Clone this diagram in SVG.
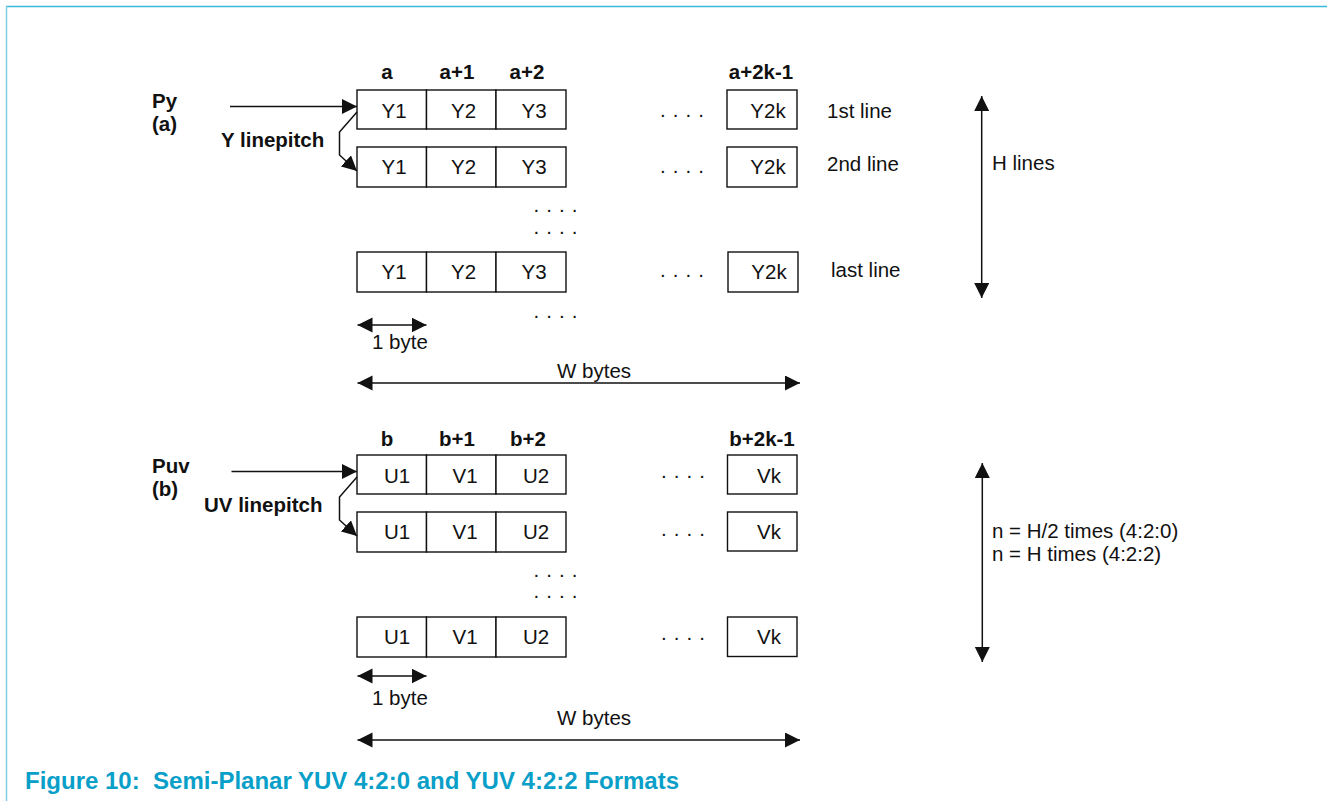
<svg xmlns="http://www.w3.org/2000/svg" width="1327" height="801" viewBox="0 0 1327 801">
<style>
text{font-family:"Liberation Sans",Arial,sans-serif;fill:#111}
.t{font-size:20.5px}
.b{font-size:20.5px;font-weight:bold}
.c{text-anchor:middle}
.d{font-size:20.5px;letter-spacing:0.7px}
.cell{fill:#fff;stroke:#111;stroke-width:1.4}
.ln{stroke:#111;stroke-width:1.5;fill:none}
.cap{font-size:24px;font-weight:bold;fill:#0a9fc8}
</style>
<defs>
<marker id="ah" markerUnits="userSpaceOnUse" markerWidth="16" markerHeight="16" refX="15" refY="7.5" orient="auto-start-reverse">
<path d="M0,0 L15,7.5 L0,15 z" fill="#111"/>
</marker>
</defs>
<rect x="0" y="0" width="1327" height="801" fill="#fff"/>
<line x1="6" y1="6.5" x2="1327" y2="6.5" stroke="#3bb9dc" stroke-width="1.5"/>
<line x1="6.5" y1="6" x2="6.5" y2="801" stroke="#7fd0e3" stroke-width="1.5"/>

<g id="y-plane">
<g id="y-addr">
<text class="b c" x="387" y="79">a</text>
<text class="b c" x="457" y="79">a+1</text>
<text class="b c" x="527" y="79">a+2</text>
<text class="b c" x="761" y="79">a+2k-1</text>
</g>
<g id="py-label">
<text class="b" x="152" y="108">Py</text>
<text class="b" x="152" y="131">(a)</text>
<text class="b" x="221" y="147">Y linepitch</text>
</g>
<g id="y-row1">
<rect class="cell" x="357" y="90" width="69.5" height="39"/>
<rect class="cell" x="426.5" y="90" width="69.5" height="39"/>
<rect class="cell" x="496" y="90" width="70" height="39"/>
<rect class="cell" x="727" y="90" width="70" height="39"/>
<text class="t c" x="394" y="118">Y1</text>
<text class="t c" x="463.5" y="118">Y2</text>
<text class="t c" x="534" y="118">Y3</text>
<text class="t c" x="768" y="118">Y2k</text>
<text class="d" x="660" y="116.5">. . . .</text>
<text class="t" x="827" y="118">1st line</text>
</g>
<g id="y-row2">
<rect class="cell" x="357" y="147" width="69.5" height="40"/>
<rect class="cell" x="426.5" y="147" width="69.5" height="40"/>
<rect class="cell" x="496" y="147" width="70" height="40"/>
<rect class="cell" x="727" y="147" width="70" height="40"/>
<text class="t c" x="394" y="174">Y1</text>
<text class="t c" x="463.5" y="174">Y2</text>
<text class="t c" x="534" y="174">Y3</text>
<text class="t c" x="768" y="174">Y2k</text>
<text class="d" x="660" y="173">. . . .</text>
<text class="t" x="827" y="171">2nd line</text>
</g>
<text class="d" x="533.5" y="212">. . . .</text>
<text class="d" x="533.5" y="234">. . . .</text>
<g id="y-rowlast">
<rect class="cell" x="357" y="252" width="69.5" height="40"/>
<rect class="cell" x="426.5" y="252" width="69.5" height="40"/>
<rect class="cell" x="496" y="252" width="70" height="40"/>
<rect class="cell" x="728" y="252" width="70" height="40"/>
<text class="t c" x="394" y="278.5">Y1</text>
<text class="t c" x="463.5" y="278.5">Y2</text>
<text class="t c" x="534" y="278.5">Y3</text>
<text class="t c" x="769" y="278.5">Y2k</text>
<text class="d" x="660" y="276.5">. . . .</text>
<text class="t" x="831" y="277">last line</text>
</g>
<text class="d" x="533.5" y="318">. . . .</text>
<text class="t" x="372" y="349">1 byte</text>
<text class="t" x="557" y="378">W bytes</text>
<text class="t" x="992" y="170">H lines</text>
</g>

<g id="uv-plane">
<g id="uv-addr">
<text class="b c" x="387" y="446">b</text>
<text class="b c" x="457" y="446">b+1</text>
<text class="b c" x="528" y="446">b+2</text>
<text class="b c" x="762" y="446">b+2k-1</text>
</g>
<g id="puv-label">
<text class="b" x="152" y="473">Puv</text>
<text class="b" x="152" y="496">(b)</text>
<text class="b" x="204" y="512">UV linepitch</text>
</g>
<g id="uv-row1">
<rect class="cell" x="357" y="455" width="69.5" height="39"/>
<rect class="cell" x="426.5" y="455" width="69.5" height="39"/>
<rect class="cell" x="496" y="455" width="70" height="39"/>
<rect class="cell" x="727.5" y="455" width="69.5" height="39"/>
<text class="t c" x="397" y="483">U1</text>
<text class="t c" x="465" y="483">V1</text>
<text class="t c" x="536" y="483">U2</text>
<text class="t c" x="769" y="483">Vk</text>
<text class="d" x="661" y="478">. . . .</text>
</g>
<g id="uv-row2">
<rect class="cell" x="357" y="512" width="69.5" height="40"/>
<rect class="cell" x="426.5" y="512" width="69.5" height="40"/>
<rect class="cell" x="496" y="512" width="70" height="40"/>
<rect class="cell" x="727.5" y="512" width="69.5" height="39"/>
<text class="t c" x="397" y="539">U1</text>
<text class="t c" x="465" y="539">V1</text>
<text class="t c" x="536" y="539">U2</text>
<text class="t c" x="769" y="539">Vk</text>
<text class="d" x="661" y="535.5">. . . .</text>
</g>
<text class="d" x="533.5" y="576.5">. . . .</text>
<text class="d" x="533.5" y="598">. . . .</text>
<g id="uv-rowlast">
<rect class="cell" x="357" y="617" width="69.5" height="40"/>
<rect class="cell" x="426.5" y="617" width="69.5" height="40"/>
<rect class="cell" x="496" y="617" width="70" height="40"/>
<rect class="cell" x="727.5" y="617" width="69.5" height="39.5"/>
<text class="t c" x="397" y="643.5">U1</text>
<text class="t c" x="465" y="643.5">V1</text>
<text class="t c" x="536" y="643.5">U2</text>
<text class="t c" x="769" y="643.5">Vk</text>
<text class="d" x="661" y="639.5">. . . .</text>
</g>
<text class="t" x="372" y="705">1 byte</text>
<text class="t" x="557" y="725">W bytes</text>
<text class="t" x="992" y="538">n = H/2 times (4:2:0)</text>
<text class="t" x="992" y="561">n = H times (4:2:2)</text>
</g>

<g id="connectors">
<line class="ln" x1="230" y1="106.5" x2="357" y2="106.5" marker-end="url(#ah)"/>
<path class="ln" d="M357,112 L339.5,132 L339.5,155 L357,171" marker-end="url(#ah)"/>
<line class="ln" x1="357.5" y1="325" x2="426.5" y2="325" marker-start="url(#ah)" marker-end="url(#ah)"/>
<line class="ln" x1="357.5" y1="383" x2="800" y2="383" marker-start="url(#ah)" marker-end="url(#ah)"/>
<line class="ln" x1="981.7" y1="96" x2="981.7" y2="298" marker-start="url(#ah)" marker-end="url(#ah)"/>

<line class="ln" x1="231.5" y1="471.5" x2="357" y2="471.5" marker-end="url(#ah)"/>
<path class="ln" d="M357,477 L339.5,497 L339.5,520 L357,536" marker-end="url(#ah)"/>
<line class="ln" x1="357.5" y1="676" x2="426.5" y2="676" marker-start="url(#ah)" marker-end="url(#ah)"/>
<line class="ln" x1="357.5" y1="740" x2="800" y2="740" marker-start="url(#ah)" marker-end="url(#ah)"/>
<line class="ln" x1="982.3" y1="463" x2="982.3" y2="662" marker-start="url(#ah)" marker-end="url(#ah)"/>
</g>

<text class="cap" x="25" y="789" xml:space="preserve">Figure 10:  Semi-Planar YUV 4:2:0 and YUV 4:2:2 Formats</text>
</svg>
